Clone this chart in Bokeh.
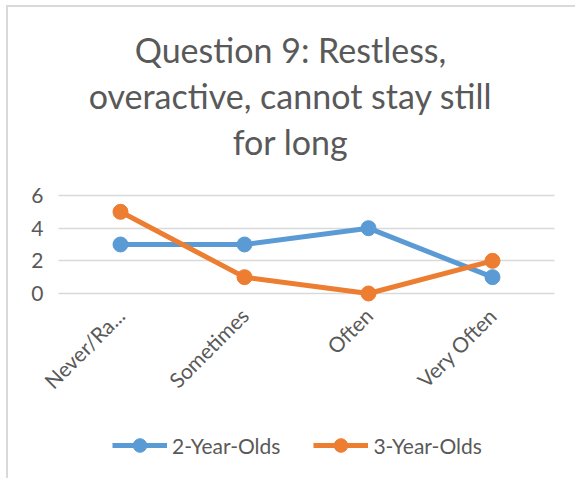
import math
from bokeh.plotting import figure
from bokeh.models import Label, Legend, LegendItem, FactorRange, Range1d
from bokeh.embed import file_html
from bokeh.resources import INLINE

categories = ["Never/Ra...", "Sometimes", "Often", "Very Often"]
two_year_olds = [3, 3, 4, 1]
three_year_olds = [5, 1, 0, 2]
y_ticks = [0, 2, 4, 6]
title_lines = ["Question 9: Restless,", "overactive, cannot stay still", "for long"]
series_names = ["2-Year-Olds", "3-Year-Olds"]

BLUE = "#5B9BD5"
ORANGE = "#ED7D31"
TXT = "#595959"
FONT = "Lato"

p = figure(
    x_range=FactorRange(*categories, range_padding=0.145, range_padding_units="absolute"),
    y_range=Range1d(-11.45, 17.51),
    width=569, height=473,
    output_backend="svg", toolbar_location=None,
    min_border_left=32, min_border_right=5,
    min_border_top=0, min_border_bottom=0,
)
p.title.visible = False
p.styles = {"border-left": "2px solid #d9d9d9", "border-top": "2px solid #d9d9d9",
            "margin-left": "6px", "margin-top": "5px"}
p.outline_line_color = None
p.background_fill_color = "white"
p.border_fill_color = "white"

p.xgrid.grid_line_color = None
p.ygrid.grid_line_color = "#D9D9D9"
p.ygrid.grid_line_width = 1.5
p.ygrid.cross_bounds = (0, len(categories))
p.yaxis.ticker = y_ticks
p.xaxis.fixed_location = 0

for ax in (p.xaxis, p.yaxis):
    ax.axis_line_color = None
    ax.major_tick_line_color = None
    ax.minor_tick_line_color = None
    ax.major_tick_out = 0
    ax.major_tick_in = 0
    ax.minor_tick_out = 0
    ax.major_label_text_color = TXT
    ax.major_label_text_font = FONT
    ax.major_label_text_font_size = "21px"
p.yaxis.major_label_standoff = -3
p.xaxis.major_label_standoff = 18
p.xaxis.major_label_orientation = math.pi / 4

l1 = p.line(categories, two_year_olds, line_color=BLUE, line_width=5)
s1 = p.scatter(categories, two_year_olds, size=15, fill_color=BLUE, line_color=BLUE)
l2 = p.line(categories, three_year_olds, line_color=ORANGE, line_width=5)
s2 = p.scatter(categories, three_year_olds, size=15, fill_color=ORANGE, line_color=ORANGE)

legend = Legend(
    items=[LegendItem(label=series_names[0], renderers=[l1, s1]),
           LegendItem(label=series_names[1], renderers=[l2, s2])],
    orientation="horizontal", location=(72, 18),
    glyph_width=55, glyph_height=34, label_height=20,
    label_standoff=5, spacing=33, padding=0, margin=0,
    label_text_font=FONT, label_text_font_size="21px", label_text_color=TXT,
    border_line_alpha=0, background_fill_alpha=0,
)
p.add_layout(legend, "center")

title_x = 1.871
title_y = [14.94, 12.13, 9.31]
for txt, ty in zip(title_lines, title_y):
    p.add_layout(Label(x=title_x, y=ty, text=txt, text_align="center", text_baseline="alphabetic",
                       text_font=FONT, text_font_size="34px", text_color=TXT))

open("out.html", "w").write(file_html(p, INLINE))
